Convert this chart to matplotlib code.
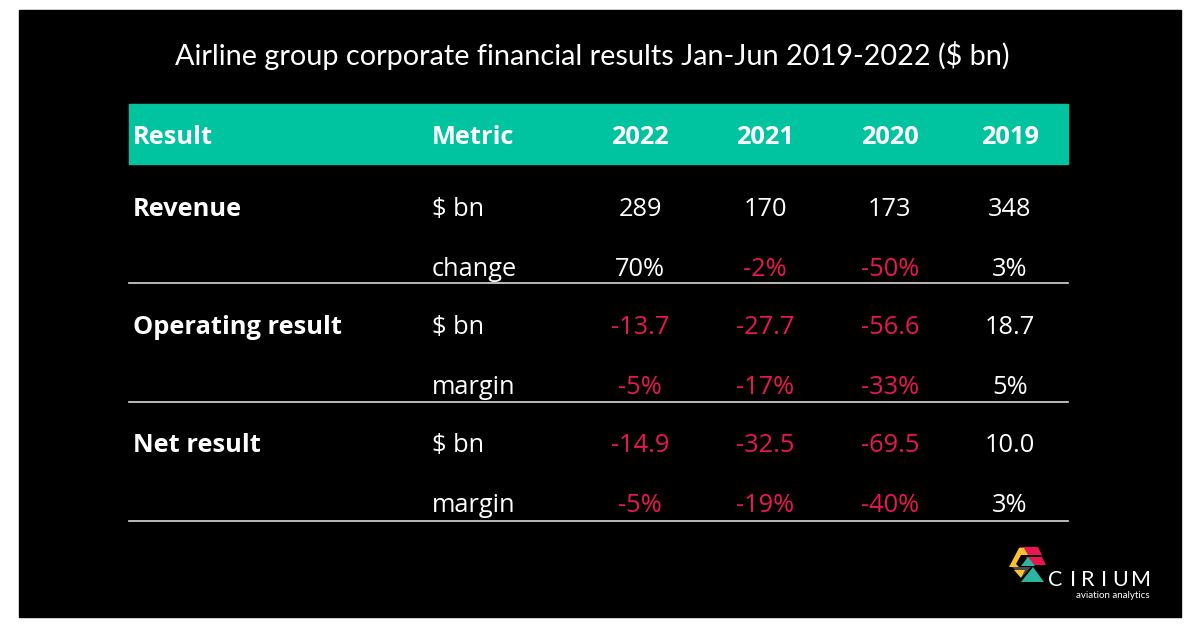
import matplotlib
matplotlib.use("Agg")
import matplotlib.pyplot as plt
from matplotlib.patches import Rectangle, Polygon

title = "Airline group corporate financial results Jan-Jun 2019-2022 ($ bn)"
header = ["Result", "Metric", "2022", "2021", "2020", "2019"]
results = ["Revenue", "", "Operating result", "", "Net result", ""]
metrics = ["$ bn", "change", "$ bn", "margin", "$ bn", "margin"]
y2022 = ["289", "70%", "-13.7", "-5%", "-14.9", "-5%"]
y2021 = ["170", "-2%", "-27.7", "-17%", "-32.5", "-19%"]
y2020 = ["173", "-50%", "-56.6", "-33%", "-69.5", "-40%"]
y2019 = ["348", "3%", "18.7", "5%", "10.0", "3%"]

TEAL = "#00C49F"
RED = "#E8174F"
FONT = "Open Sans"

fig = plt.figure(figsize=(12, 6.27), dpi=100)
fig.patch.set_facecolor("white")
ax = fig.add_axes([0, 0, 1, 1])
ax.set_xlim(0, 1200)
ax.set_ylim(627, 0)
ax.axis("off")

ax.add_patch(Rectangle((19, 10), 1162, 607, color="black", zorder=0))
ax.text(592, 56, title, color="white", fontsize=20.8, family="Lato",
        ha="center", va="center")

# header band
ax.add_patch(Rectangle((129, 104), 939, 60, color=TEAL, zorder=1))
col_x = [133, 432, 640, 765, 890, 1010]
aligns = ["left", "left", "center", "center", "center", "center"]
for x, h, a in zip(col_x, header, aligns):
    ax.text(x, 137, h, color="white", fontsize=18.3, fontweight="bold", family=FONT,
            ha=a, va="center", zorder=2)

row_y = [209, 269, 328, 388, 446, 506]
years = [y2022, y2021, y2020, y2019]
for i, y in enumerate(row_y):
    if results[i]:
        ax.text(col_x[0], y, results[i], color="white", fontsize=18.3, fontweight="bold",
                family=FONT, ha="left", va="center")
    ax.text(col_x[1], y, metrics[i], color="white", fontsize=18.3, family=FONT,
            ha="left", va="center")
    for j, col in enumerate(years):
        v = col[i]
        c = RED if v.startswith("-") else "white"
        ax.text(col_x[2 + j], y, v, color=c, fontsize=18.3, family=FONT,
                ha="center", va="center")

for ly in [283, 402, 521]:
    ax.plot([129, 1068], [ly, ly], color="#d9d9d9", lw=1.2)

# logo
logo = [
    ([(1020, 547), (1038, 547), (1042, 555), (1016, 555)], RED),
    ([(1026, 557), (1042, 557), (1046, 565), (1030, 565)], RED),
    ([(1009, 567), (1019, 548), (1024, 548), (1028, 555), (1021, 555), (1016, 564), (1019, 567)], "#F9C22E"),
    ([(1012, 567), (1031, 567), (1022, 577)], "#4a4a4a"),
    ([(1021, 566), (1035, 566), (1028, 557)], "#2BB5A0"),
    ([(1021, 582), (1044, 582), (1033, 567)], "#2BB5A0"),
    ([(1014, 570), (1025, 570), (1021, 578)], "#F9C22E"),
]
for pts, c in logo:
    ax.add_patch(Polygon(pts, closed=True, color=c, lw=0))
for lx, ch in zip([1055, 1073, 1088, 1104, 1120, 1141], "CIRIUM"):
    ax.text(lx, 580, ch, color="white", fontsize=15.5, family="Lato", fontweight="normal",
            ha="center", va="center")
ax.text(1150, 596, "aviation analytics", color="white", fontsize=7, family="Lato",
        ha="right", va="center")

fig.savefig("out.png", dpi=100, facecolor="white")
